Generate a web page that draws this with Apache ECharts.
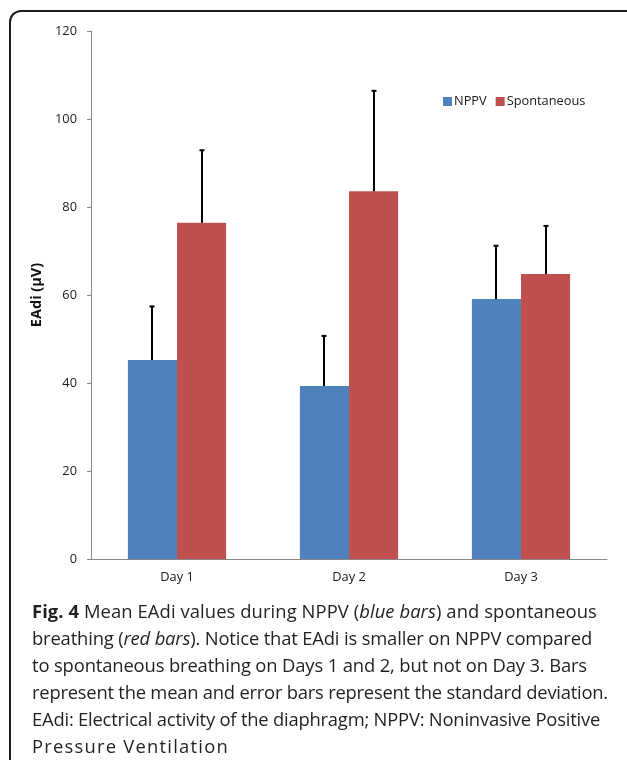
<!DOCTYPE html>
<html>
<head>
<meta charset="utf-8">
<script src="https://cdn.jsdelivr.net/npm/echarts@6/dist/echarts.min.js"></script>
<style>
  html, body { margin: 0; padding: 0; background: #fff; }
  #wrap { position: relative; width: 627px; height: 760px; overflow: hidden; background: #fff; }
  #chart { position: absolute; left: 0; top: 0; width: 627px; height: 760px; }
  #frame { position: absolute; left: 9px; top: 10px; width: 640px; height: 800px;
           border-top: 2px solid #1e1e1e; border-left: 2px solid #1e1e1e;
           border-top-left-radius: 12px; box-sizing: border-box; pointer-events: none; }
  #caption { position: absolute; left: 32px; top: 597px; font-family: "Open Sans", sans-serif;
             font-size: 18.4px; line-height: 27px; color: #231f20; white-space: nowrap; }
  #caption .ln { display: block; }
  #caption .ln span.t { display: inline-block; }
  #caption b { font-weight: 700; }
</style>
</head>
<body>
<div id="wrap">
  <div id="chart"></div>
  <div id="frame"></div>
  <div id="caption">
    <div class="ln" data-end="597"><span class="t"><b>Fig. 4</b> Mean EAdi values during NPPV (<i>blue bars</i>) and spontaneous</span></div>
    <div class="ln" data-end="592"><span class="t">breathing (<i>red bars</i>). Notice that EAdi is smaller on NPPV compared</span></div>
    <div class="ln" data-end="587"><span class="t">to spontaneous breathing on Days 1 and 2, but not on Day 3. Bars</span></div>
    <div class="ln" data-end="608"><span class="t">represent the mean and error bars represent the standard deviation.</span></div>
    <div class="ln" data-end="600"><span class="t">EAdi: Electrical activity of the diaphragm; NPPV: Noninvasive Positive</span></div>
    <div class="ln" data-end="229"><span class="t">Pressure Ventilation</span></div>
  </div>
</div>
<script>
const categories = ['Day 1', 'Day 2', 'Day 3'];
const seriesNames = ['NPPV', 'Spontaneous'];
const nppvMean = [45.2, 39.3, 59.1];
const nppvSD = [12.2, 11.4, 12.1];
const spontMean = [76.4, 83.6, 64.8];
const spontSD = [16.5, 22.8, 10.9];
const yTicks = [0, 20, 40, 60, 80, 100, 120];

const GAP = 0.429;
const FONT = '"Open Sans", sans-serif';

function fitCaption() {
  const capLeft = 32;
  document.querySelectorAll('#caption .ln').forEach(function (ln) {
    const t = ln.querySelector('.t');
    t.style.letterSpacing = '0px';
    const w = t.getBoundingClientRect().width;
    const target = parseFloat(ln.getAttribute('data-end')) - capLeft;
    const n = t.textContent.length;
    const ls = (target - w) / n;
    t.style.letterSpacing = ls.toFixed(3) + 'px';
  });
}
fitCaption();
if (document.fonts && document.fonts.ready) document.fonts.ready.then(fitCaption);

function errorSeries(means, sds, side) {
  return {
    type: 'custom',
    z: 10,
    silent: true,
    data: means.map((m, i) => [i, m, sds[i]]),
    renderItem: function (params, api) {
      const ci = api.value(0), mean = api.value(1), sd = api.value(2);
      const base = api.coord([ci, mean]);
      const top = api.coord([ci, mean + sd]);
      const bandW = api.size([1, 0])[0];
      const barW = bandW * (1 - GAP) / 2;
      const x = Math.round(base[0] + side * barW / 2);
      return {
        type: 'group',
        children: [
          { type: 'line', shape: { x1: x, y1: base[1], x2: x, y2: top[1] },
            style: { stroke: '#000', lineWidth: 2 } },
          { type: 'line', shape: { x1: x - 2.5, y1: top[1], x2: x + 2.5, y2: top[1] },
            style: { stroke: '#000', lineWidth: 2 } }
        ]
      };
    }
  };
}

const chart = echarts.init(document.getElementById('chart'), null, { renderer: 'canvas' });
chart.setOption({
  animation: false,
  backgroundColor: 'transparent',
  textStyle: { fontFamily: FONT },
  grid: { left: 91, right: 20, top: 31, bottom: 201, containLabel: false },
  legend: {
    data: seriesNames,
    left: 443, top: 95, padding: 0,
    itemWidth: 9, itemHeight: 9, itemGap: 9,
    icon: 'rect',
    textStyle: { fontFamily: FONT, fontSize: 12.8, color: '#1a1a1a', padding: [0, 0, 0, -3] }
  },
  xAxis: {
    type: 'category',
    data: categories,
    axisLine: { lineStyle: { color: '#888', width: 1 } },
    axisTick: { show: false },
    axisLabel: { color: '#1a1a1a', fontSize: 12.8, margin: 12, fontFamily: FONT },
    splitLine: { show: false }
  },
  yAxis: {
    type: 'value',
    min: yTicks[0], max: yTicks[yTicks.length - 1], interval: 20,
    name: 'EAdi (µV)',
    nameLocation: 'middle',
    nameGap: 45,
    nameTextStyle: { fontWeight: 'bold', fontSize: 14.5, color: '#111', fontFamily: FONT },
    axisLine: { show: true, lineStyle: { color: '#888', width: 1 } },
    axisTick: { show: true, length: 4, lineStyle: { color: '#888' } },
    axisLabel: { color: '#1a1a1a', fontSize: 12.8, margin: 14, fontFamily: FONT },
    splitLine: { show: false }
  },
  series: [
    { name: seriesNames[0], type: 'bar', data: nppvMean, barGap: '0%', barCategoryGap: (GAP * 100) + '%',
      itemStyle: { color: '#4F81BD' } },
    { name: seriesNames[1], type: 'bar', data: spontMean, barGap: '0%', barCategoryGap: (GAP * 100) + '%',
      itemStyle: { color: '#C0504D' } },
    errorSeries(nppvMean, nppvSD, -1),
    errorSeries(spontMean, spontSD, 1)
  ]
});
</script>
</body>
</html>
